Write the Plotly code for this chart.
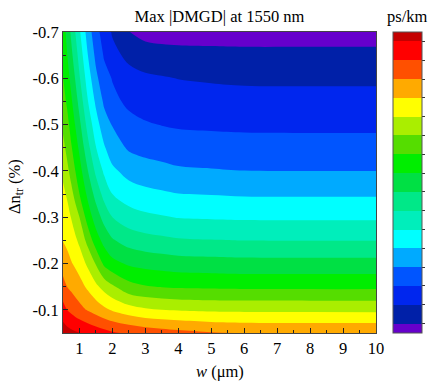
import plotly.graph_objects as go

# ---- data ----
w_um = [0.5, 0.625, 0.75, 0.875, 1.0, 1.25, 1.5, 1.75, 2.0, 2.5, 3.0, 3.5, 4.0, 5.0, 6.0, 8.0, 10.0]
dn_tr = [-0.05, -0.10, -0.15, -0.20, -0.25, -0.30, -0.35, -0.40, -0.45, -0.50, -0.55, -0.60, -0.65, -0.70]

# Max |DMGD| level index (one row per dn_tr value, one column per w value)
dmgd = [
    [16.6, 16.4, 16.25, 16.12, 16.02, 15.78, 15.55, 15.35, 15.13, 14.85, 14.62, 14.45, 14.3, 14.08, 13.97, 13.93, 13.9],
    [15.37, 15.0, 14.74, 14.51, 14.3, 13.93, 13.59, 13.21, 12.89, 12.43, 12.14, 12.0, 11.92, 11.83, 11.8, 11.79, 11.79],
    [14.35, 14.0, 13.79, 13.58, 13.37, 12.83, 12.21, 11.65, 11.16, 10.35, 10.07, 9.96, 9.88, 9.84, 9.8, 9.79, 9.79],
    [13.59, 13.33, 13.07, 12.84, 12.57, 11.8, 10.92, 9.78, 9.30, 8.86, 8.67, 8.56, 8.46, 8.40, 8.35, 8.34, 8.34],
    [12.96, 12.78, 12.51, 12.18, 11.79, 10.69, 9.46, 8.69, 8.1, 7.59, 7.36, 7.23, 7.11, 7.04, 6.99, 6.98, 6.98],
    [12.59, 12.35, 11.96, 11.45, 11.0, 9.56, 8.53, 7.63, 7.0, 6.45, 6.21, 6.08, 5.96, 5.90, 5.86, 5.85, 5.85],
    [12.22, 11.88, 11.27, 10.71, 10.0, 8.79, 7.63, 6.67, 6.0, 5.5, 5.27, 5.14, 5.02, 4.96, 4.9, 4.89, 4.89],
    [11.8, 11.25, 10.66, 10.0, 9.4, 8.04, 6.79, 5.83, 5.2, 4.65, 4.41, 4.28, 4.14, 4.07, 4.01, 4.0, 4.0],
    [11.29, 10.72, 10.1, 9.48, 8.81, 7.33, 6.03, 5.1, 4.45, 3.88, 3.69, 3.58, 3.47, 3.42, 3.37, 3.36, 3.36],
    [10.8, 10.33, 9.61, 8.95, 8.23, 6.67, 5.41, 4.43, 3.95, 3.30, 3.08, 2.97, 2.89, 2.84, 2.81, 2.80, 2.80],
    [10.4, 9.84, 9.15, 8.45, 7.66, 6.05, 4.81, 3.83, 3.25, 2.80, 2.62, 2.53, 2.44, 2.38, 2.34, 2.33, 2.33],
    [10.05, 9.44, 8.7, 7.94, 7.1, 5.54, 4.23, 3.35, 2.95, 2.375, 2.19, 2.08, 1.98, 1.90, 1.84, 1.83, 1.83],
    [9.8, 9.04, 8.25, 7.46, 6.62, 5.03, 3.75, 2.90, 2.3, 1.75, 1.4, 1.35, 1.30, 1.26, 1.22, 1.22, 1.22],
    [9.6, 8.65, 7.82, 6.98, 6.15, 4.57, 3.34, 2.56, 1.9, 1.02, 0.72, 0.62, 0.6, 0.6, 0.61, 0.61, 0.61],
]

band_colors = ["#6600CC", "#0020A8", "#0026EE", "#0055FF", "#00AAFF", "#00FFFF",
               "#00EEBB", "#00E888", "#00E044", "#00EE00", "#55DD00", "#AAEE00",
               "#FFFF00", "#FFAA00", "#FF5000", "#FF0000", "#C40000"]

x_ticks = [1, 2, 3, 4, 5, 6, 7, 8, 9, 10]
y_ticks = [-0.7, -0.6, -0.5, -0.4, -0.3, -0.2, -0.1]
y_ticktext = ["-0.7", "-0.6", "-0.5", "-0.4", "-0.3", "-0.2", "-0.1"]

n = len(band_colors) - 1
colorscale = [[i / n, c] for i, c in enumerate(band_colors)]

FONT = "Liberation Serif, Times New Roman, serif"
FS = 16.5

fig = go.Figure(go.Contour(
    x=w_um, y=dn_tr, z=dmgd,
    colorscale=colorscale,
    contours=dict(start=1, end=16, size=1, coloring="fill", showlines=False),
    line=dict(width=0),
    colorbar=dict(
        x=(393 - 63) / 313, xanchor="left", xpad=0, y=0.5, yanchor="middle", ypad=0,
        len=1, lenmode="fraction", thickness=29,
        outlinewidth=1, outlinecolor="#555555",
        showticklabels=False, ticks="outside", ticklen=3, tickcolor="#333333",
        tickmode="array", tickvals=list(range(1, 17)),
    ),
))

fig.update_layout(
    width=430, height=381,
    margin=dict(l=63, r=54, t=32, b=48, autoexpand=False),
    paper_bgcolor="white", plot_bgcolor="white",
    font=dict(family=FONT, size=FS, color="black"),
    title=dict(text="Max |DMGD| at 1550 nm", x=0.5, xref="paper", xanchor="center",
               y=1 - 16 / 381, yref="container", yanchor="middle",
               font=dict(family=FONT, size=FS, color="black")),
    showlegend=False,
)

fig.update_xaxes(
    range=[0.5, 10], tickvals=x_ticks, ticks="inside", ticklen=5, tickcolor="#222",
    showline=True, linecolor="#444", linewidth=1, mirror=True, showgrid=False, zeroline=False,
    minor=dict(ticks="inside", ticklen=3, dtick=0.5, tick0=0.5, tickcolor="#222", showgrid=False),
    tickfont=dict(family=FONT, size=FS, color="black"),
)
fig.update_yaxes(
    range=[-0.05, -0.7], tickvals=y_ticks, ticktext=y_ticktext, ticks="inside", ticklen=5,
    tickcolor="#222",
    showline=True, linecolor="#444", linewidth=1, mirror=True, showgrid=False, zeroline=False,
    minor=dict(ticks="inside", ticklen=3, dtick=0.05, tick0=-0.05, tickcolor="#222", showgrid=False),
    tickfont=dict(family=FONT, size=FS, color="black"),
)

fig.add_annotation(text="Δn<sub>tr</sub> (%)", xref="paper", yref="paper",
                   x=(15 - 63) / 313, y=(333 - 187) / 301, xanchor="center", yanchor="middle",
                   textangle=-90, showarrow=False, font=dict(family=FONT, size=FS, color="black"))
fig.add_annotation(text="<i>w</i> (μm)", xref="paper", yref="paper",
                   x=0.5, y=(333 - 371) / 301, xanchor="center", yanchor="middle",
                   showarrow=False, font=dict(family=FONT, size=FS, color="black"))
fig.add_annotation(text="ps/km", xref="paper", yref="paper",
                   x=(407 - 63) / 313, y=(333 - 16) / 301, xanchor="center", yanchor="middle",
                   showarrow=False, font=dict(family=FONT, size=FS, color="black"))

fig.write_html("out.html")
